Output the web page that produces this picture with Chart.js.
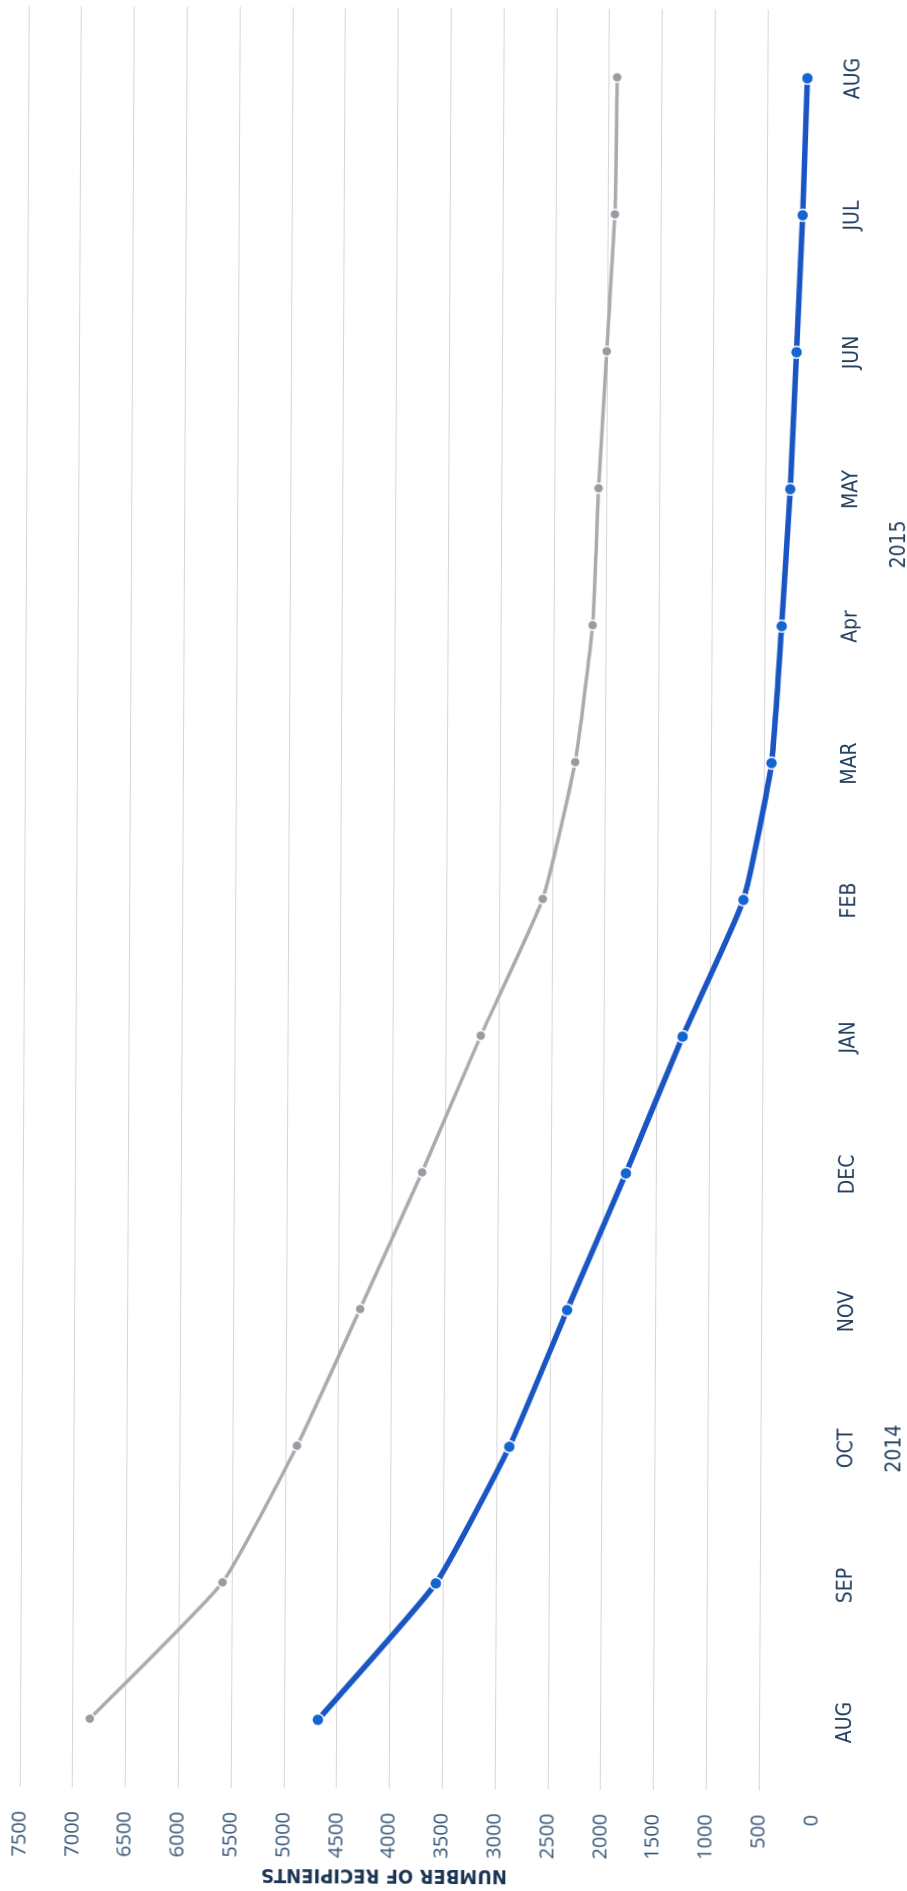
<!DOCTYPE html>
<html>
<head>
<meta charset="utf-8">
<title>Number of recipients</title>
<script src="https://cdn.jsdelivr.net/npm/chart.js@4.4.1/dist/chart.umd.min.js"></script>
<style>
  html, body { margin: 0; padding: 0; background: #fff; overflow: hidden; }
  /* the printed chart is turned on its side, and scanned a little crooked */
  #page { position: relative; width: 907px; height: 1891px; transform-origin: 453.5px 945.5px; transform: rotate(0.29deg); }
  #turn { position: absolute; left: 0; top: 0; width: 1891px; height: 907px; transform-origin: 0 0; transform: translateY(1891px) rotate(-90deg); }
  #recipientsChart { display: block; }
</style>
</head>
<body>
<div id="page">
  <div id="turn">
    <canvas id="recipientsChart" width="1891" height="907"></canvas>
  </div>
</div>
<script>
const months = ['AUG', 'SEP', 'OCT', 'NOV', 'DEC', 'JAN', 'FEB', 'MAR', 'Apr', 'MAY', 'JUN', 'JUL', 'AUG'];
const yearLabels = ['2014', '2015'];
const yearPositions = [2, 8.6];   // in month slots
const greySeries = [6840, 5590, 4890, 4300, 3720, 3170, 2590, 2290, 2130, 2080, 2010, 1940, 1925];
const blueSeries = [4680, 3570, 2880, 2340, 1790, 1260, 690, 430, 340, 266, 213, 162, 123];
const yMin = 0;
const yMax = 7500;
const yStep = 500;

const narrowFont = "'Liberation Sans Narrow', 'DejaVu Sans Condensed', 'Open Sans', sans-serif";
const labelFont = "'Open Sans', sans-serif";

const ctx = document.getElementById('recipientsChart').getContext('2d');
const recipientsChart = new Chart(ctx, {
    type: 'line',
    data: {
        labels: months,
        datasets: [
            {
                label: 'Grey',
                data: greySeries,
                borderColor: '#a9abae',
                borderWidth: 3.5,
                pointBackgroundColor: '#979ca2',
                pointBorderColor: '#ffffff',
                pointBorderWidth: 1.5,
                pointRadius: 5,
                tension: 0.15
            },
            {
                label: 'Blue',
                data: blueSeries,
                borderColor: '#1a55c4',
                borderWidth: 5.5,
                pointBackgroundColor: '#1565d0',
                pointBorderColor: '#ffffff',
                pointBorderWidth: 1.5,
                pointRadius: 6,
                tension: 0.15
            }
        ]
    },
    options: {
        responsive: false,
        animation: false,
        layout: { padding: { top: 24, right: 8, bottom: 3, left: 0 } },
        plugins: {
            legend: { display: false },
            tooltip: { enabled: false }
        },
        scales: {
            x: {
                type: 'category',
                offset: true,
                grid: { display: false },
                border: { display: false },
                ticks: {
                    autoSkip: false,
                    maxRotation: 0,
                    padding: 12.5,
                    color: '#22405f',
                    font: { family: narrowFont, size: 21 }
                },
                afterFit: scale => { scale.height = 44; }
            },
            x2: {
                type: 'linear',
                position: 'bottom',
                weight: 1,
                min: -0.5,
                max: 12.5,
                grid: { display: false },
                border: { display: false },
                afterBuildTicks: scale => {
                    scale.ticks = yearPositions.map(v => ({ value: v }));
                },
                ticks: {
                    autoSkip: false,
                    maxRotation: 0,
                    padding: 16.5,
                    color: '#22405f',
                    font: { family: narrowFont, size: 21 },
                    callback: (value, index) => yearLabels[index]
                },
                afterFit: scale => { scale.height = 44; }
            },
            y: {
                min: yMin,
                max: yMax,
                grid: {
                    drawTicks: true,
                    tickLength: 22,
                    tickColor: 'rgba(0,0,0,0)',
                    lineWidth: 1,
                    color: c => (c.tick && c.tick.value === 0) ? 'rgba(0,0,0,0)' : '#d6d6d6'
                },
                border: { display: false },
                ticks: {
                    stepSize: yStep,
                    padding: 2,
                    color: '#355677',
                    font: { family: labelFont, size: 20 },
                    callback: value => String(value)
                },
                title: {
                    display: true,
                    // leading spaces nudge the title off-centre, as printed
                    text: '          NUMBER OF RECIPIENTS',
                    color: '#1c3553',
                    font: { family: narrowFont, size: 20, weight: 'bold' },
                    padding: { top: 4, bottom: 0 }
                },
                afterFit: scale => { scale.width = 102; }
            }
        }
    }
});
</script>
</body>
</html>
